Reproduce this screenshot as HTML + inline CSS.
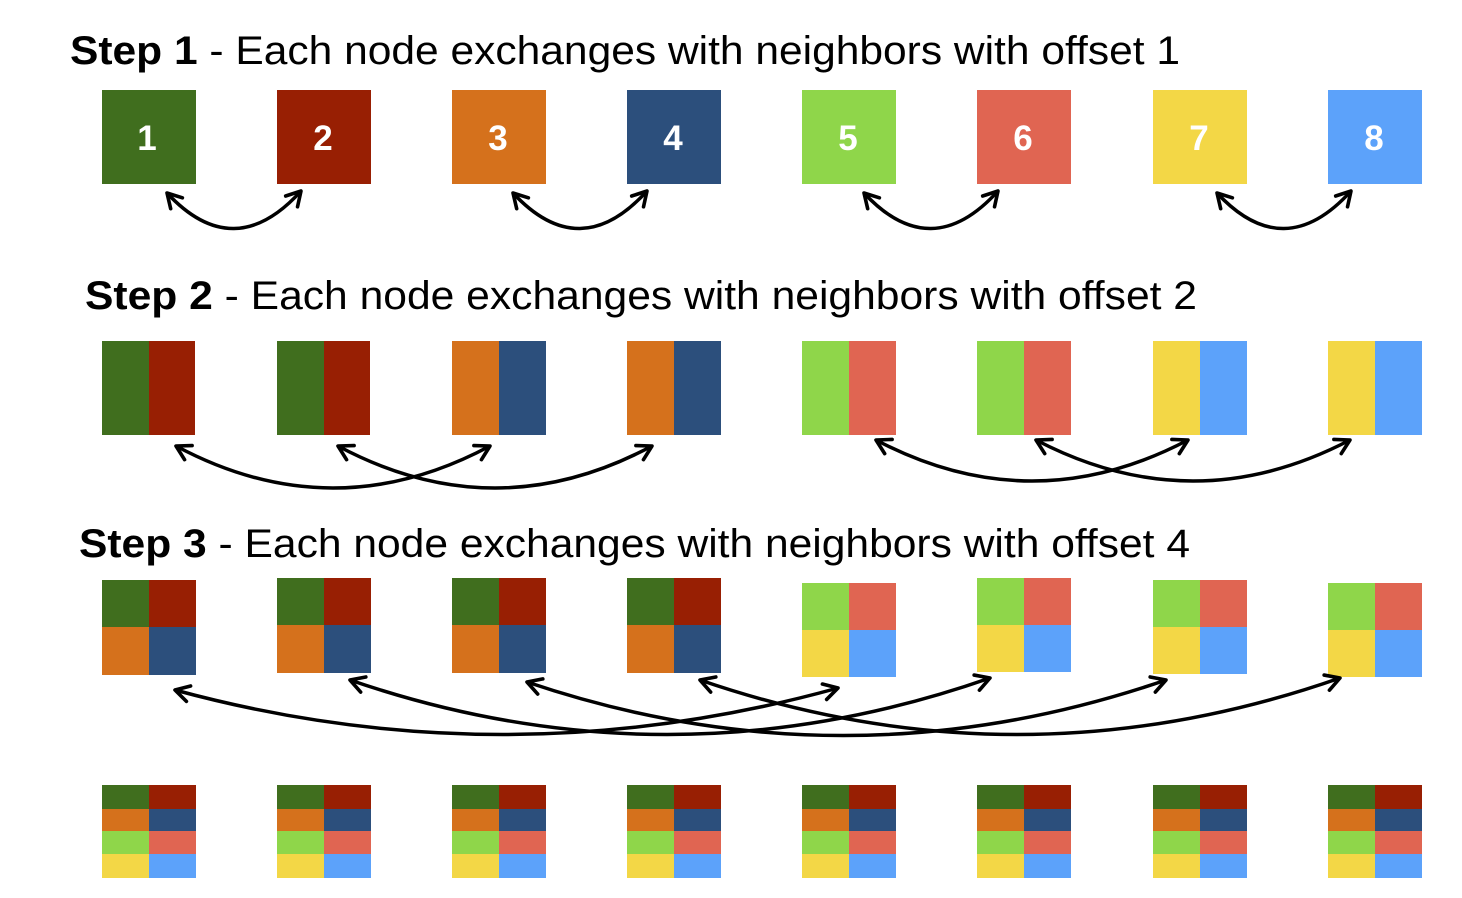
<!DOCTYPE html>
<html><head><meta charset="utf-8"><style>html,body{margin:0;padding:0;background:#fff}svg{display:block}</style></head>
<body>
<svg width="1462" height="898" viewBox="0 0 1462 898" xmlns="http://www.w3.org/2000/svg" font-family="'Liberation Sans', Arial, sans-serif">
<defs>
<marker id="ah" viewBox="0 0 20 20" refX="17" refY="10" markerWidth="20" markerHeight="20" markerUnits="userSpaceOnUse" orient="auto-start-reverse">
<path d="M3,2 L17,10 L3,18" fill="none" stroke="#000" stroke-width="3.6" stroke-linecap="round" stroke-linejoin="round"/>
</marker>
</defs>
<text x="70" y="64" font-size="40" textLength="1110" lengthAdjust="spacingAndGlyphs"><tspan font-weight="bold">Step 1</tspan> - Each node exchanges with neighbors with offset 1</text>
<text x="85" y="309" font-size="40" textLength="1112" lengthAdjust="spacingAndGlyphs"><tspan font-weight="bold">Step 2</tspan> - Each node exchanges with neighbors with offset 2</text>
<text x="79" y="557" font-size="40" textLength="1111" lengthAdjust="spacingAndGlyphs"><tspan font-weight="bold">Step 3</tspan> - Each node exchanges with neighbors with offset 4</text>

<g>
<rect x="102" y="90" width="94" height="94" fill="#406e1e"/>
<rect x="277" y="90" width="94" height="94" fill="#981f03"/>
<rect x="452" y="90" width="94" height="94" fill="#d5711c"/>
<rect x="627" y="90" width="94" height="94" fill="#2c4f7c"/>
<rect x="802" y="90" width="94" height="94" fill="#8fd64a"/>
<rect x="977" y="90" width="94" height="94" fill="#e06552"/>
<rect x="1153" y="90" width="94" height="94" fill="#f3d746"/>
<rect x="1328" y="90" width="94" height="94" fill="#5ca2fa"/>
</g>
<g fill="#fff" font-weight="bold" font-size="35" text-anchor="middle">
<text x="147" y="150">1</text><text x="323" y="150">2</text><text x="498" y="150">3</text><text x="673" y="150">4</text>
<text x="848" y="150">5</text><text x="1023" y="150">6</text><text x="1199" y="150">7</text><text x="1374" y="150">8</text>
</g>
<g fill="none" stroke="#000" stroke-width="3.5" marker-start="url(#ah)" marker-end="url(#ah)">
<path d="M167,193 Q234,265 301,191"/>
<path d="M513,193 Q580,265 647,191"/>
<path d="M864,193 Q931,265 998,191"/>
<path d="M1217,193 Q1284,265 1351,191"/>
</g>

<g>
<rect x="102" y="341" width="47" height="94" fill="#406e1e"/><rect x="149" y="341" width="46" height="94" fill="#981f03"/>
<rect x="277" y="341" width="47" height="94" fill="#406e1e"/><rect x="324" y="341" width="46" height="94" fill="#981f03"/>
<rect x="452" y="341" width="47" height="94" fill="#d5711c"/><rect x="499" y="341" width="47" height="94" fill="#2c4f7c"/>
<rect x="627" y="341" width="47" height="94" fill="#d5711c"/><rect x="674" y="341" width="47" height="94" fill="#2c4f7c"/>
<rect x="802" y="341" width="47" height="94" fill="#8fd64a"/><rect x="849" y="341" width="47" height="94" fill="#e06552"/>
<rect x="977" y="341" width="47" height="94" fill="#8fd64a"/><rect x="1024" y="341" width="47" height="94" fill="#e06552"/>
<rect x="1153" y="341" width="47" height="94" fill="#f3d746"/><rect x="1200" y="341" width="47" height="94" fill="#5ca2fa"/>
<rect x="1328" y="341" width="47" height="94" fill="#f3d746"/><rect x="1375" y="341" width="47" height="94" fill="#5ca2fa"/>
</g>
<g fill="none" stroke="#000" stroke-width="3.5" marker-start="url(#ah)" marker-end="url(#ah)">
<path d="M176,446 Q333,530 490,446"/>
<path d="M338,446 Q495,530 652,446"/>
<path d="M876,440 Q1032,522 1188,440"/>
<path d="M1036,440 Q1193,522 1350,440"/>
</g>

<g>
<g transform="translate(102,580)"><rect width="47" height="47" fill="#406e1e"/><rect x="47" width="47" height="47" fill="#981f03"/><rect y="47" width="47" height="48" fill="#d5711c"/><rect x="47" y="47" width="47" height="48" fill="#2c4f7c"/></g>
<g transform="translate(277,578)"><rect width="47" height="47" fill="#406e1e"/><rect x="47" width="47" height="47" fill="#981f03"/><rect y="47" width="47" height="48" fill="#d5711c"/><rect x="47" y="47" width="47" height="48" fill="#2c4f7c"/></g>
<g transform="translate(452,578)"><rect width="47" height="47" fill="#406e1e"/><rect x="47" width="47" height="47" fill="#981f03"/><rect y="47" width="47" height="48" fill="#d5711c"/><rect x="47" y="47" width="47" height="48" fill="#2c4f7c"/></g>
<g transform="translate(627,578)"><rect width="47" height="47" fill="#406e1e"/><rect x="47" width="47" height="47" fill="#981f03"/><rect y="47" width="47" height="48" fill="#d5711c"/><rect x="47" y="47" width="47" height="48" fill="#2c4f7c"/></g>
<g transform="translate(802,583)"><rect width="47" height="47" fill="#8fd64a"/><rect x="47" width="47" height="47" fill="#e06552"/><rect y="47" width="47" height="47" fill="#f3d746"/><rect x="47" y="47" width="47" height="47" fill="#5ca2fa"/></g>
<g transform="translate(977,578)"><rect width="47" height="47" fill="#8fd64a"/><rect x="47" width="47" height="47" fill="#e06552"/><rect y="47" width="47" height="47" fill="#f3d746"/><rect x="47" y="47" width="47" height="47" fill="#5ca2fa"/></g>
<g transform="translate(1153,580)"><rect width="47" height="47" fill="#8fd64a"/><rect x="47" width="47" height="47" fill="#e06552"/><rect y="47" width="47" height="47" fill="#f3d746"/><rect x="47" y="47" width="47" height="47" fill="#5ca2fa"/></g>
<g transform="translate(1328,583)"><rect width="47" height="47" fill="#8fd64a"/><rect x="47" width="47" height="47" fill="#e06552"/><rect y="47" width="47" height="47" fill="#f3d746"/><rect x="47" y="47" width="47" height="47" fill="#5ca2fa"/></g>
</g>
<g fill="none" stroke="#000" stroke-width="3.5" marker-start="url(#ah)" marker-end="url(#ah)">
<path d="M175,690 Q506,780 838,688"/>
<path d="M350,680 Q670,790 990,678"/>
<path d="M527,682 Q846,790 1166,680"/>
<path d="M700,680 Q1020,790 1340,678"/>
</g>

<g id="fin">
<g transform="translate(102,785)">
<rect width="47" height="24" fill="#406e1e"/><rect x="47" width="47" height="24" fill="#981f03"/>
<rect y="24" width="47" height="22" fill="#d5711c"/><rect x="47" y="24" width="47" height="22" fill="#2c4f7c"/>
<rect y="46" width="47" height="23" fill="#8fd64a"/><rect x="47" y="46" width="47" height="23" fill="#e06552"/>
<rect y="69" width="47" height="24" fill="#f3d746"/><rect x="47" y="69" width="47" height="24" fill="#5ca2fa"/>
</g>
</g>
<use href="#fin" x="175"/><use href="#fin" x="350"/><use href="#fin" x="525"/>
<use href="#fin" x="700"/><use href="#fin" x="875"/><use href="#fin" x="1051"/><use href="#fin" x="1226"/>
</svg>
</body></html>
